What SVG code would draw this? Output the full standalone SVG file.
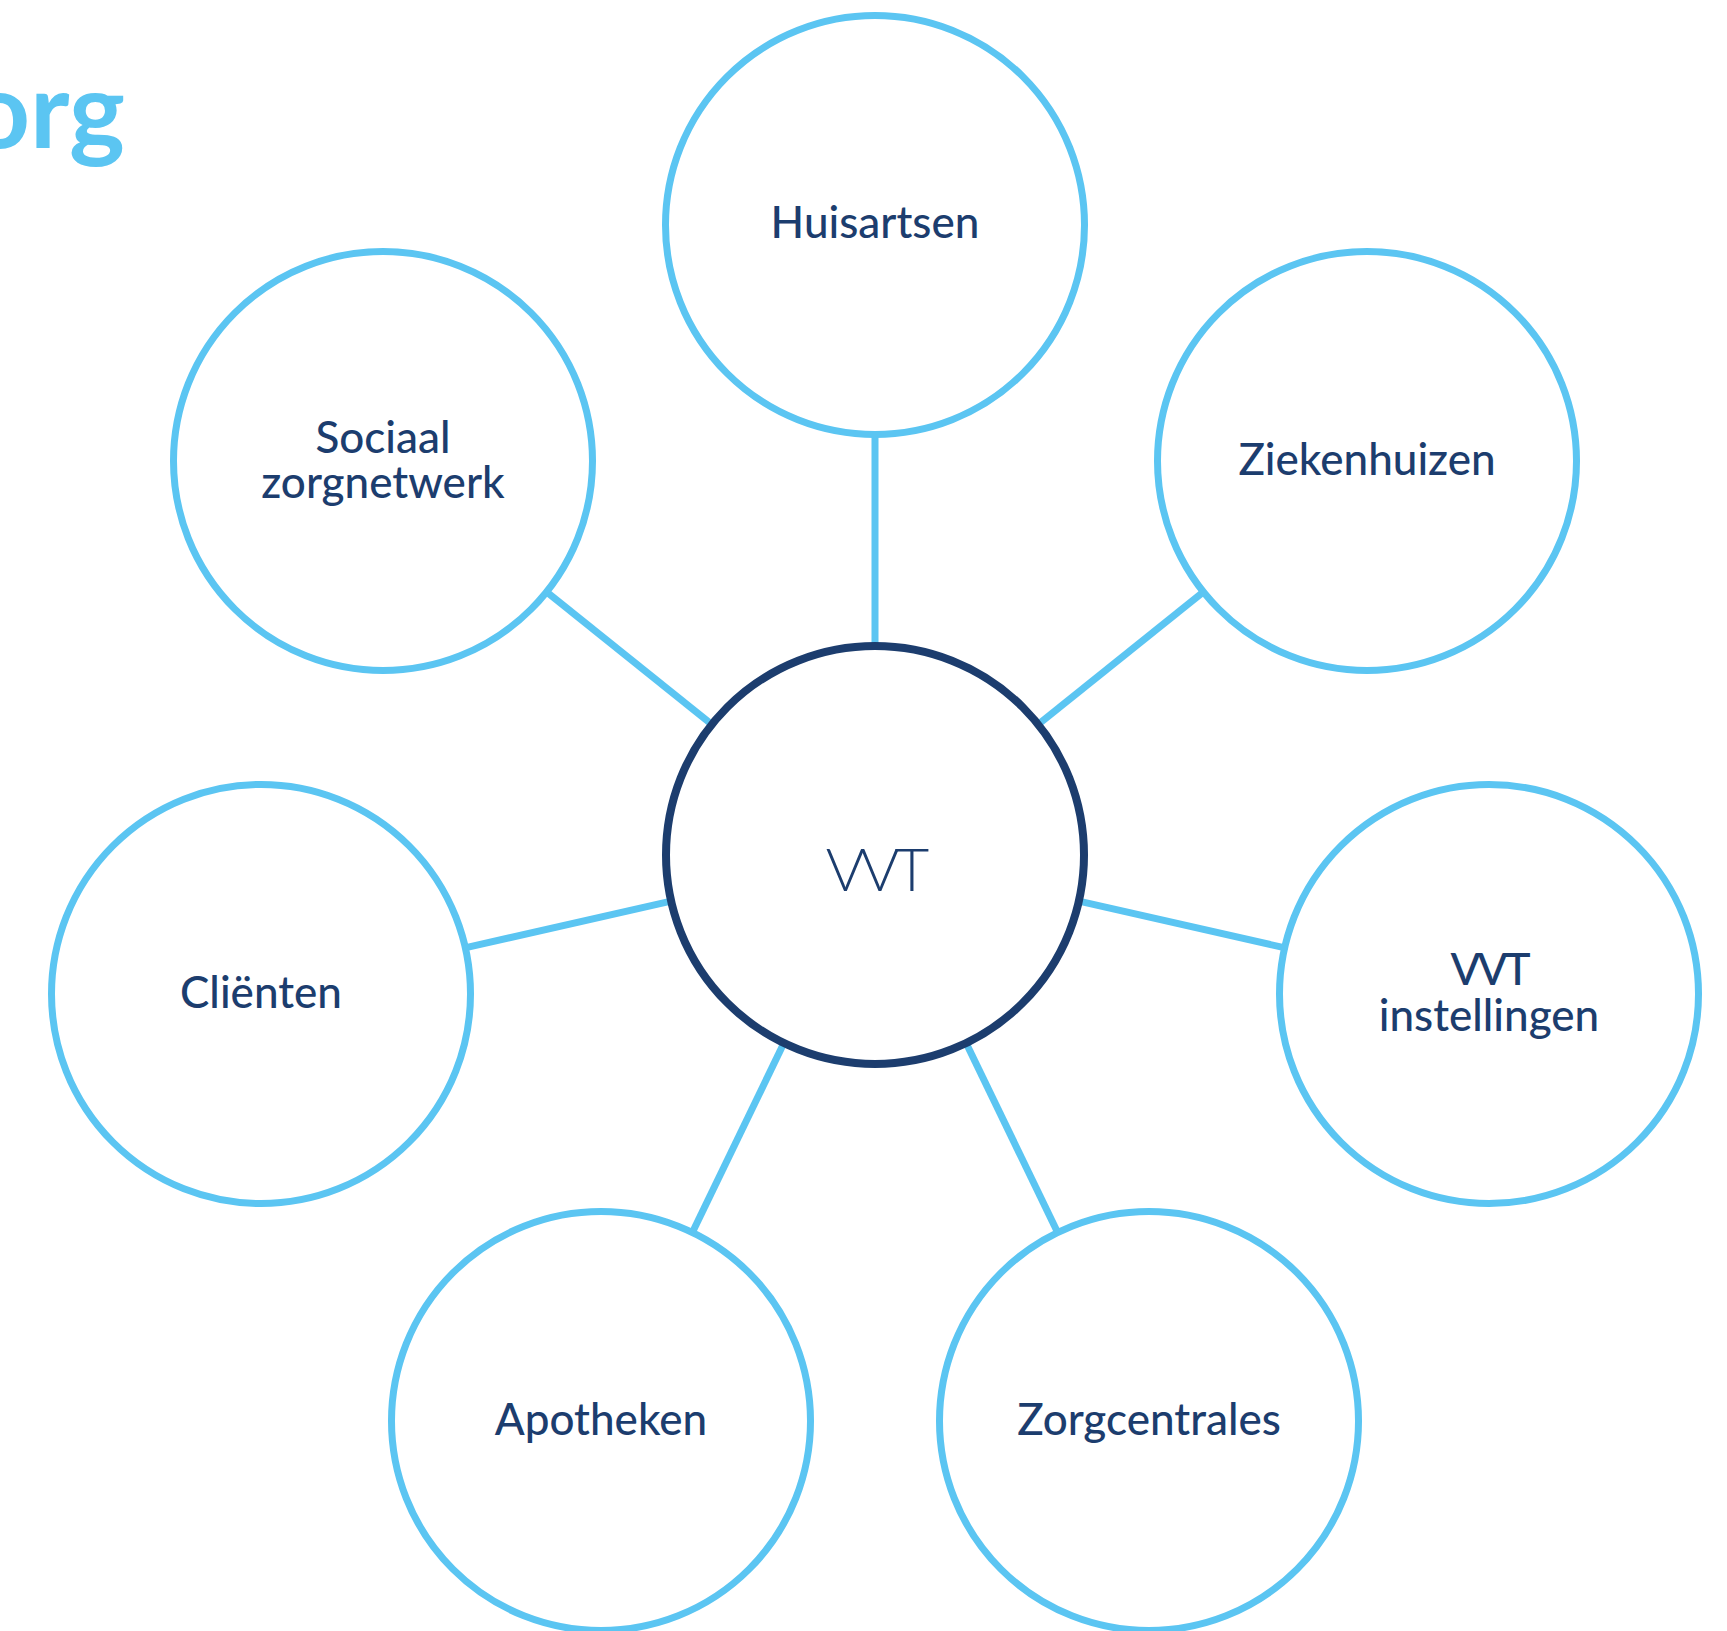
<svg xmlns="http://www.w3.org/2000/svg" width="1727" height="1631" viewBox="0 0 1727 1631">
<style>
.node{fill:#ffffff;stroke:#5bc5f2;stroke-width:7}
.hub{fill:#ffffff;stroke:#1c3d6e;stroke-width:8}
.lbl{font-family:Lato,"Open Sans",sans-serif;font-size:44px;font-weight:500;fill:#1c3d6e;text-anchor:middle}
.hubl{font-family:Lato,"Open Sans",sans-serif;font-size:60px;font-weight:300;fill:#1c3d6e;text-anchor:middle}
.conn{stroke:#5bc5f2;stroke-width:7;fill:none}
.title{font-family:Lato,"Open Sans",sans-serif;font-size:106px;font-weight:700;fill:#5bc5f2;text-anchor:end}
</style>
<rect width="1727" height="1631" fill="#ffffff"/>
<text class="title" x="125" y="148">org</text>
<g id="connectors">
<line class="conn" x1="875" y1="434" x2="875" y2="646"/>
<line class="conn" x1="546.1" y1="591.6" x2="711.9" y2="724.4"/>
<line class="conn" x1="1203.9" y1="591.6" x2="1038.1" y2="724.4"/>
<line class="conn" x1="464.9" y1="947.9" x2="671.1" y2="901.1"/>
<line class="conn" x1="1285.1" y1="947.9" x2="1078.9" y2="901.1"/>
<line class="conn" x1="692.1" y1="1232.9" x2="783.9" y2="1043.1"/>
<line class="conn" x1="1057.9" y1="1232.9" x2="966.1" y2="1043.1"/>
</g>
<g id="node-vvt">
<circle class="hub" cx="875" cy="855" r="209"/>
<text class="hubl" x="875" y="891" letter-spacing="-5">VVT</text>
</g>
<g id="node-huisartsen">
<circle class="node" cx="875" cy="225" r="209.5"/>
<text class="lbl" x="875" y="238">Huisartsen</text>
</g>
<g id="node-sociaal">
<circle class="node" cx="383" cy="461" r="209.5"/>
<text class="lbl" x="383" y="453">Sociaal</text>
<text class="lbl" x="383" y="498">zorgnetwerk</text>
</g>
<g id="node-ziekenhuizen">
<circle class="node" cx="1367" cy="461" r="209.5"/>
<text class="lbl" x="1367" y="475">Ziekenhuizen</text>
</g>
<g id="node-clienten">
<circle class="node" cx="261" cy="994" r="209.5"/>
<text class="lbl" x="261" y="1008">Cliënten</text>
</g>
<g id="node-vvt-instellingen">
<circle class="node" cx="1489" cy="994" r="209.5"/>
<text class="lbl" x="1489" y="985" letter-spacing="-3">VVT</text>
<text class="lbl" x="1489" y="1031">instellingen</text>
</g>
<g id="node-apotheken">
<circle class="node" cx="601" cy="1421" r="209.5"/>
<text class="lbl" x="601" y="1435">Apotheken</text>
</g>
<g id="node-zorgcentrales">
<circle class="node" cx="1149" cy="1421" r="209.5"/>
<text class="lbl" x="1149" y="1435">Zorgcentrales</text>
</g>
</svg>
